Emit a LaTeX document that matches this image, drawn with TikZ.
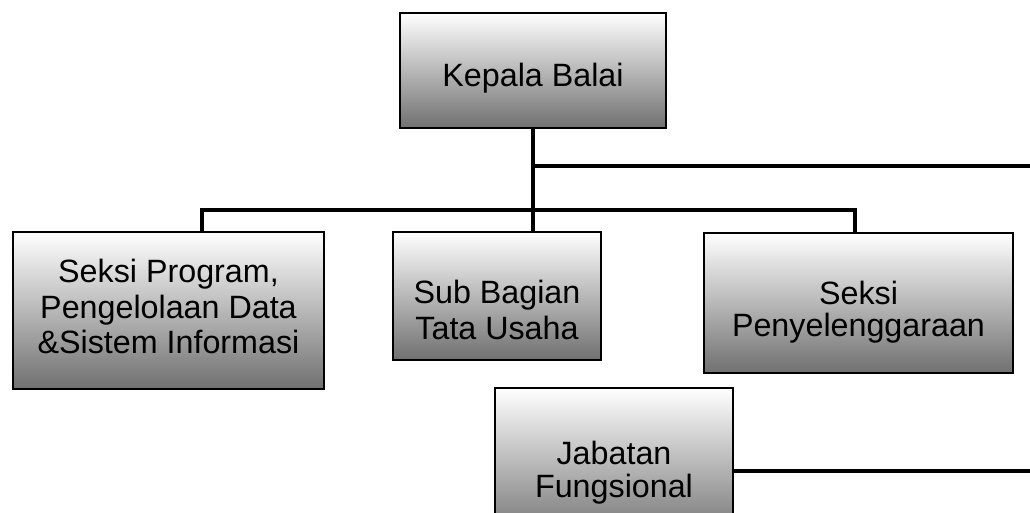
\documentclass[tikz,border=0pt]{standalone}
\usepackage{fontspec}
\setmainfont{Liberation Sans}
\definecolor{boxgray}{RGB}{112,112,112}
\begin{document}
\begin{tikzpicture}[x=0.75pt,y=-0.75pt,
  box/.style={draw=black,line width=1.5pt,top color=white,bottom color=boxgray,
    inner sep=0pt,anchor=north west},
  conn/.style={line width=2.4pt},
  txt/.style={align=center,inner sep=0pt,text=black}]
\useasboundingbox (0,0) rectangle (1030,513);
% boxes
\node[box,minimum width=199.5pt,minimum height=86.25pt,
  label={[txt,yshift=-5.8pt,font=\fontsize{24.2}{26.6}\selectfont]center:Kepala Balai}] (kb) at (399,12) {};
\node[box,minimum width=233.25pt,minimum height=117.75pt,
  label={[txt,yshift=3pt,font=\fontsize{24.2}{26.6}\selectfont]center:Seksi Program,\\Pengelolaan Data\\\&Sistem Informasi}] (sp) at (12,231) {};
\node[box,minimum width=156pt,minimum height=96pt,
  label={[txt,yshift=-10.5pt,font=\fontsize{24.2}{27}\selectfont]center:Sub Bagian\\Tata Usaha}] (sb) at (392,231) {};
\node[box,minimum width=231.75pt,minimum height=105pt,
  label={[txt,yshift=-7.1pt,font=\fontsize{24.2}{23.8}\selectfont]center:Seksi\\Penyelenggaraan}] (sy) at (703,232) {};
\node[box,minimum width=178.5pt,minimum height=114.75pt,
  label={[txt,yshift=-6pt,font=\fontsize{24.2}{24.75}\selectfont]center:Jabatan\\Fungsional}] (jf) at (494,387) {};
% connectors
\coordinate (b1) at (202,210);
\coordinate (b3) at (855,210);
\coordinate (e1) at (1030,166);
\coordinate (e2) at (1030,471);
\draw[conn] (b1 |- sp.north) -- (b1) -- (b3) -- (b3 |- sy.north);
\draw[conn] (kb.south) -- (kb.south |- sb.north);
\draw[conn] (kb.south |- e1) -- (e1);
\draw[conn] (jf.east |- e2) -- (e2);
\end{tikzpicture}
\end{document}
